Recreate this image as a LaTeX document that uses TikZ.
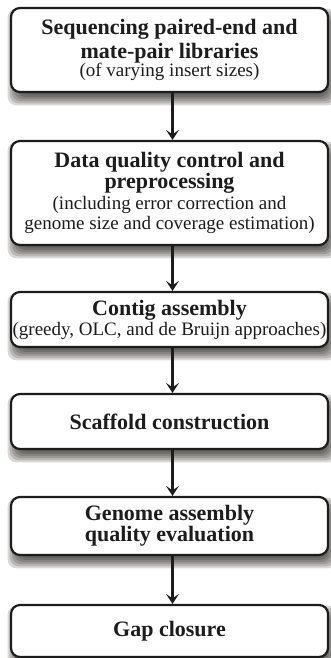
\documentclass[tikz,border=0pt]{standalone}
\usepackage{fontspec}
\setmainfont{Liberation Serif}
\usetikzlibrary{arrows.meta,calc}
\newcommand\mytitle{\fontsize{22}{24}\selectfont\bfseries}
\newcommand\mysubt{\fontsize{19}{21}\selectfont}
\definecolor{shA}{RGB}{217,216,214}
\definecolor{shB}{RGB}{184,183,181}
\definecolor{shC}{RGB}{156,155,152}
\definecolor{shD}{RGB}{133,132,129}
\definecolor{shE}{RGB}{112,111,108}
\definecolor{shF}{RGB}{97,96,93}
\definecolor{shG}{RGB}{82,81,78}
\definecolor{inkc}{RGB}{28,28,28}
\newcommand\shl[6]{\fill[shadowlayer, #2] ($(#1)+(#3,#4)$) rectangle ($(#1)+(#5,#6)$);}
\begin{document}
\begin{tikzpicture}[x=1pt,y=1pt,
  box/.style={draw=inkc, line width=2.2pt, rounded corners=9pt, fill=white,
    minimum width=317pt, inner sep=0pt, align=center, text=inkc},
  arr/.style={draw=inkc, line width=3pt, -{Stealth[length=10pt,width=13pt,inset=4.5pt]}},
  shadowlayer/.style={rounded corners=9pt}
]
\useasboundingbox (0,0) rectangle (330,-658);
% box centres
\coordinate (c1) at (169.5,-50);
\coordinate (c2) at (169.5,-193);
\coordinate (c3) at (169.5,-319.5);
\coordinate (c4) at (169.5,-421.5);
\coordinate (c5) at (169.5,-526);
\coordinate (c6) at (169.5,-631);
% soft drop shadows
\shl{c1}{shA}{-161.9}{41.4}{167.9}{-55.4}
\shl{c1}{shB}{-159.8}{39.3}{165.8}{-53.3}
\shl{c1}{shC}{-157.6}{37.1}{163.6}{-51.1}
\shl{c1}{shD}{-155.5}{35}{161.5}{-49}
\shl{c1}{shE}{-153.4}{32.9}{159.4}{-46.9}
\shl{c1}{shF}{-151.2}{30.7}{157.2}{-44.7}
\shl{c1}{shG}{-149.1}{28.6}{155.1}{-42.6}
\shl{c2}{shA}{-161.9}{51.4}{167.9}{-65.4}
\shl{c2}{shB}{-159.8}{49.3}{165.8}{-63.3}
\shl{c2}{shC}{-157.6}{47.1}{163.6}{-61.1}
\shl{c2}{shD}{-155.5}{45}{161.5}{-59}
\shl{c2}{shE}{-153.4}{42.9}{159.4}{-56.9}
\shl{c2}{shF}{-151.2}{40.7}{157.2}{-54.7}
\shl{c2}{shG}{-149.1}{38.6}{155.1}{-52.6}
\shl{c3}{shA}{-161.9}{26.9}{167.9}{-40.9}
\shl{c3}{shB}{-159.8}{24.8}{165.8}{-38.8}
\shl{c3}{shC}{-157.6}{22.6}{163.6}{-36.6}
\shl{c3}{shD}{-155.5}{20.5}{161.5}{-34.5}
\shl{c3}{shE}{-153.4}{18.4}{159.4}{-32.4}
\shl{c3}{shF}{-151.2}{16.2}{157.2}{-30.2}
\shl{c3}{shG}{-149.1}{14.1}{155.1}{-28.1}
\shl{c4}{shA}{-161.9}{26.9}{167.9}{-40.9}
\shl{c4}{shB}{-159.8}{24.8}{165.8}{-38.8}
\shl{c4}{shC}{-157.6}{22.6}{163.6}{-36.6}
\shl{c4}{shD}{-155.5}{20.5}{161.5}{-34.5}
\shl{c4}{shE}{-153.4}{18.4}{159.4}{-32.4}
\shl{c4}{shF}{-151.2}{16.2}{157.2}{-30.2}
\shl{c4}{shG}{-149.1}{14.1}{155.1}{-28.1}
\shl{c5}{shA}{-161.9}{28.4}{167.9}{-42.4}
\shl{c5}{shB}{-159.8}{26.3}{165.8}{-40.3}
\shl{c5}{shC}{-157.6}{24.1}{163.6}{-38.1}
\shl{c5}{shD}{-155.5}{22}{161.5}{-36}
\shl{c5}{shE}{-153.4}{19.9}{159.4}{-33.9}
\shl{c5}{shF}{-151.2}{17.7}{157.2}{-31.7}
\shl{c5}{shG}{-149.1}{15.6}{155.1}{-29.6}
\shl{c6}{shA}{-161.9}{25.4}{167.9}{-39.4}
\shl{c6}{shB}{-159.8}{23.3}{165.8}{-37.3}
\shl{c6}{shC}{-157.6}{21.1}{163.6}{-35.1}
\shl{c6}{shD}{-155.5}{19}{161.5}{-33}
\shl{c6}{shE}{-153.4}{16.9}{159.4}{-30.9}
\shl{c6}{shF}{-151.2}{14.7}{157.2}{-28.7}
\shl{c6}{shG}{-149.1}{12.6}{155.1}{-26.6}
\node[box, minimum height=84pt] (b1) at (c1)
  {\mytitle Sequencing paired-end and\\[2pt] \mytitle mate-pair libraries\\[-1pt] \mysubt (of varying insert sizes)};
\node[box, minimum height=104pt] (b2) at (c2)
  {\mytitle Data quality control and\\ \mytitle preprocessing\\[2pt] \mysubt (including error correction and\\[1pt] \mysubt genome size and coverage estimation)};
\node[box, minimum height=55pt] (b3) at (c3)
  {\mytitle Contig assembly\\[1pt] \mysubt (greedy, OLC, and de Bruijn approaches)};
\node[box, minimum height=55pt] (b4) at (c4)
  {\mytitle Scaffold construction};
\node[box, minimum height=58pt] (b5) at (c5)
  {\mytitle Genome assembly\\ \mytitle quality evaluation};
\node[box, minimum height=52pt] (b6) at (c6)
  {\mytitle Gap closure};
\draw[arr] ([xshift=3pt]b1.south) -- ([xshift=3pt]b2.north);
\draw[arr] ([xshift=3pt]b2.south) -- ([xshift=3pt]b3.north);
\draw[arr] ([xshift=3pt]b3.south) -- ([xshift=3pt]b4.north);
\draw[arr] ([xshift=3pt]b4.south) -- ([xshift=3pt]b5.north);
\draw[arr] ([xshift=3pt]b5.south) -- ([xshift=3pt]b6.north);
\end{tikzpicture}
\end{document}
